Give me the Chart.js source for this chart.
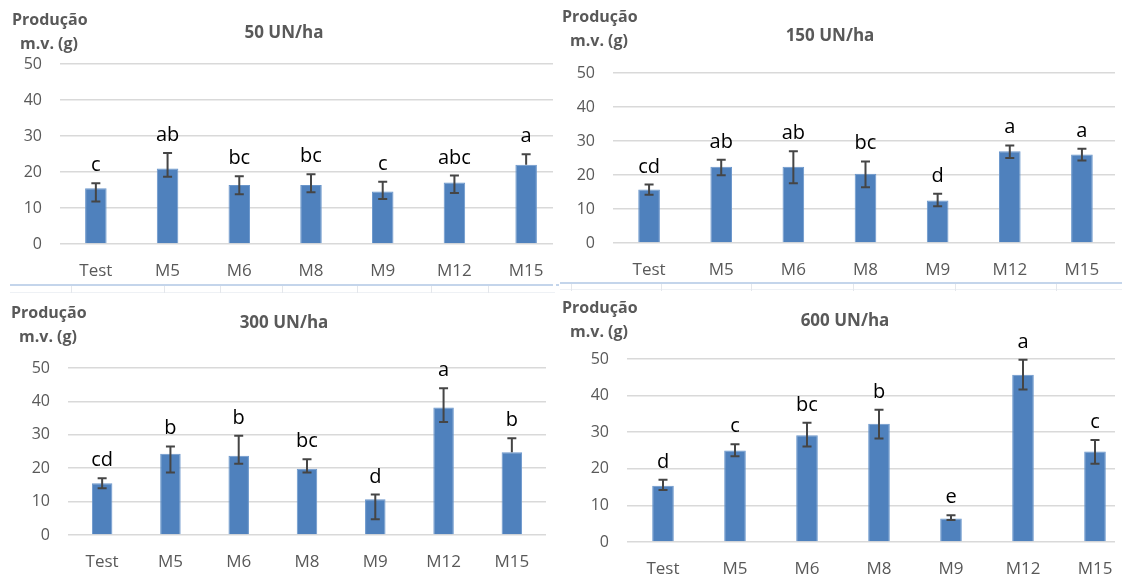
<!DOCTYPE html>
<html lang="pt">
<head>
    <meta charset="UTF-8">
    <title>Produção m.v. (g) por dose de N</title>
    <script src="https://cdn.jsdelivr.net/npm/chart.js"></script>
    <style>
        * { margin: 0; padding: 0; box-sizing: border-box; }
        body {
            width: 1122px;
            height: 578px;
            background: #fff;
            position: relative;
            overflow: hidden;
            font-family: 'Open Sans', sans-serif;
        }
        .painel { position: absolute; overflow: hidden; }
        .painel canvas { display: block; }
        .linha-azul { position: absolute; height: 2px; background: #c4d5eb; }
        .linha-fina { position: absolute; height: 1px; background: #eef1f5; }
        .traco { position: absolute; width: 1px; height: 7px; background: #e4e7ec; }
    </style>
</head>
<body>
    <div class="painel" style="left:0;top:0;width:553px;height:284px"><canvas id="g50" width="562" height="284"></canvas></div>
    <div class="painel" style="left:560px;top:0;width:555px;height:282px"><canvas id="g150" width="558" height="282"></canvas></div>
    <div class="painel" style="left:0;top:292px;width:556px;height:286px"><canvas id="g300" width="546" height="286"></canvas></div>
    <div class="painel" style="left:560px;top:292px;width:555px;height:286px"><canvas id="g600" width="571" height="286"></canvas></div>

    <!-- bordas da tabela onde os gráficos estão colados -->
    <div class="linha-azul" style="left:10px;top:284px;width:543px"></div>
    <div class="linha-azul" style="left:556px;top:284px;width:3px"></div>
    <div class="linha-azul" style="left:560px;top:282px;width:562px"></div>
    <div class="linha-fina" style="left:10px;top:292px;width:545px"></div>
    <div class="linha-fina" style="left:560px;top:289px;width:562px"></div>
    <div class="traco" style="left:71px;top:286px"></div>
    <div class="traco" style="left:164px;top:286px"></div>
    <div class="traco" style="left:220px;top:286px"></div>
    <div class="traco" style="left:282px;top:286px"></div>
    <div class="traco" style="left:357px;top:286px"></div>
    <div class="traco" style="left:431px;top:286px"></div>
    <div class="traco" style="left:488px;top:286px"></div>
    <div class="traco" style="left:571px;top:284px"></div>
    <div class="traco" style="left:661px;top:284px"></div>
    <div class="traco" style="left:751px;top:284px"></div>
    <div class="traco" style="left:853px;top:284px"></div>
    <div class="traco" style="left:955px;top:284px"></div>
    <div class="traco" style="left:1056px;top:284px"></div>

    <script>
        // tratamentos
        const tratamentos = ['Test', 'M5', 'M6', 'M8', 'M9', 'M12', 'M15'];
        const ticksY = [0, 10, 20, 30, 40, 50];

        // 50 UN/ha
        const media50 = [15.5, 21.0, 16.4, 16.4, 14.6, 17.1, 22.0];
        const sup50 = [16.9, 25.3, 18.8, 19.4, 17.3, 19.0, 24.9];
        const inf50 = [11.8, 18.7, 13.8, 14.4, 12.5, 14.2, null];
        const letras50 = ['c', 'ab', 'bc', 'bc', 'c', 'abc', 'a'];

        // 150 UN/ha
        const media150 = [15.7, 22.4, 22.4, 20.4, 12.5, 27.0, 26.0];
        const sup150 = [17.2, 24.5, 27.0, 24.0, 14.5, 28.7, 27.7];
        const inf150 = [14.2, 19.9, 17.6, 16.4, 10.8, 25.0, 24.3];
        const letras150 = ['cd', 'ab', 'ab', 'bc', 'd', 'a', 'a'];

        // 300 UN/ha
        const media300 = [15.5, 24.3, 23.7, 19.8, 10.7, 38.2, 24.8];
        const sup300 = [17.0, 26.5, 29.7, 22.7, 12.1, 43.9, 29.0];
        const inf300 = [14.0, 18.7, 21.3, 18.7, 4.7, 33.8, null];
        const letras300 = ['cd', 'b', 'b', 'bc', 'd', 'a', 'b'];

        // 600 UN/ha
        const media600 = [15.4, 25.0, 29.2, 32.3, 6.4, 45.7, 24.7];
        const sup600 = [17.0, 26.7, 32.6, 36.1, 7.3, 49.8, 27.9];
        const inf600 = [14.2, 23.4, 26.1, 28.3, 6.0, 41.7, 21.4];
        const letras600 = ['d', 'c', 'bc', 'b', 'e', 'a', 'c'];

        const CINZA = '#595959';
        const FONTE = "'Open Sans', sans-serif";

        // barras de erro, letras de Tukey, título e rótulo do eixo
        const extras = {
            id: 'extras',
            afterDatasetsDraw(chart, args, o) {
                const ctx = chart.ctx;
                const y = chart.scales.y;
                const barras = chart.getDatasetMeta(0).data;
                ctx.save();
                ctx.strokeStyle = '#454545';
                ctx.lineWidth = 2;
                barras.forEach((b, i) => {
                    const cx = b.x;
                    const yTopo = y.getPixelForValue(o.sup[i]);
                    const yBase = o.inf[i] == null ? b.y : y.getPixelForValue(o.inf[i]);
                    ctx.beginPath();
                    ctx.moveTo(cx, yTopo);
                    ctx.lineTo(cx, yBase);
                    ctx.moveTo(cx - 4.5, yTopo);
                    ctx.lineTo(cx + 4.5, yTopo);
                    if (o.inf[i] != null) {
                        ctx.moveTo(cx - 4.5, yBase);
                        ctx.lineTo(cx + 4.5, yBase);
                    }
                    ctx.stroke();
                });

                ctx.fillStyle = '#000';
                ctx.font = '20px ' + FONTE;
                ctx.textAlign = 'center';
                ctx.textBaseline = 'alphabetic';
                barras.forEach((b, i) => {
                    ctx.fillText(o.letras[i], b.x, y.getPixelForValue(o.sup[i]) - 12);
                });

                ctx.fillStyle = CINZA;
                ctx.font = 'bold 17px ' + FONTE;
                ctx.textBaseline = 'middle';
                ctx.fillText(o.titulo, o.tituloX, o.tituloY);
                ctx.textAlign = 'left';
                ctx.font = 'bold 16px ' + FONTE;
                ctx.fillText('Produção', o.eixoX, o.eixoY);
                ctx.fillText('m.v. (g)', o.eixoX + 8, o.eixoY + 24);
                ctx.restore();
            }
        };

        function grafico(id, media, sup, inf, letras, titulo, area, pos) {
            const cv = document.getElementById(id);
            return new Chart(cv, {
                type: 'bar',
                data: {
                    labels: tratamentos,
                    datasets: [{
                        data: media,
                        backgroundColor: '#4f81bd',
                        borderColor: '#6a96cb',
                        borderWidth: 1,
                        barPercentage: 0.3,
                        categoryPercentage: 1
                    }]
                },
                options: {
                    responsive: false,
                    animation: false,
                    layout: { padding: { top: area.top, left: 0, right: 0, bottom: 0 } },
                    plugins: {
                        legend: { display: false },
                        tooltip: { enabled: false },
                        extras: {
                            sup: sup, inf: inf, letras: letras, titulo: titulo,
                            tituloX: pos.tx, tituloY: pos.ty, eixoX: pos.ex, eixoY: pos.ey
                        }
                    },
                    scales: {
                        x: {
                            grid: { display: false },
                            border: { display: false },
                            ticks: { color: CINZA, font: { family: FONTE, size: 17 }, padding: 9 },
                            afterFit: s => { s.height = cv.height - area.bottom; }
                        },
                        y: {
                            min: 0,
                            max: 50,
                            afterBuildTicks: s => { s.ticks = ticksY.map(v => ({ value: v })); },
                            grid: { color: '#d9d9d9', lineWidth: 1.6, drawTicks: false },
                            border: { display: false },
                            ticks: { color: CINZA, font: { family: FONTE, size: 16 }, padding: 18 },
                            afterFit: s => { s.width = area.left; }
                        }
                    }
                },
                plugins: [extras]
            });
        }

        grafico('g50', media50, sup50, inf50, letras50, '50 UN/ha',
            { left: 60, top: 64, bottom: 244 }, { tx: 284, ty: 33, ex: 12, ey: 20 });
        grafico('g150', media150, sup150, inf150, letras150, '150 UN/ha',
            { left: 53, top: 73, bottom: 243 }, { tx: 270, ty: 36, ex: 2, ey: 17 });
        grafico('g300', media300, sup300, inf300, letras300, '300 UN/ha',
            { left: 68, top: 76, bottom: 243 }, { tx: 284, ty: 31, ex: 11, ey: 21 });
        grafico('g600', media600, sup600, inf600, letras600, '600 UN/ha',
            { left: 67, top: 67, bottom: 250 }, { tx: 285, ty: 29, ex: 2, ey: 16 });
    </script>
</body>
</html>
